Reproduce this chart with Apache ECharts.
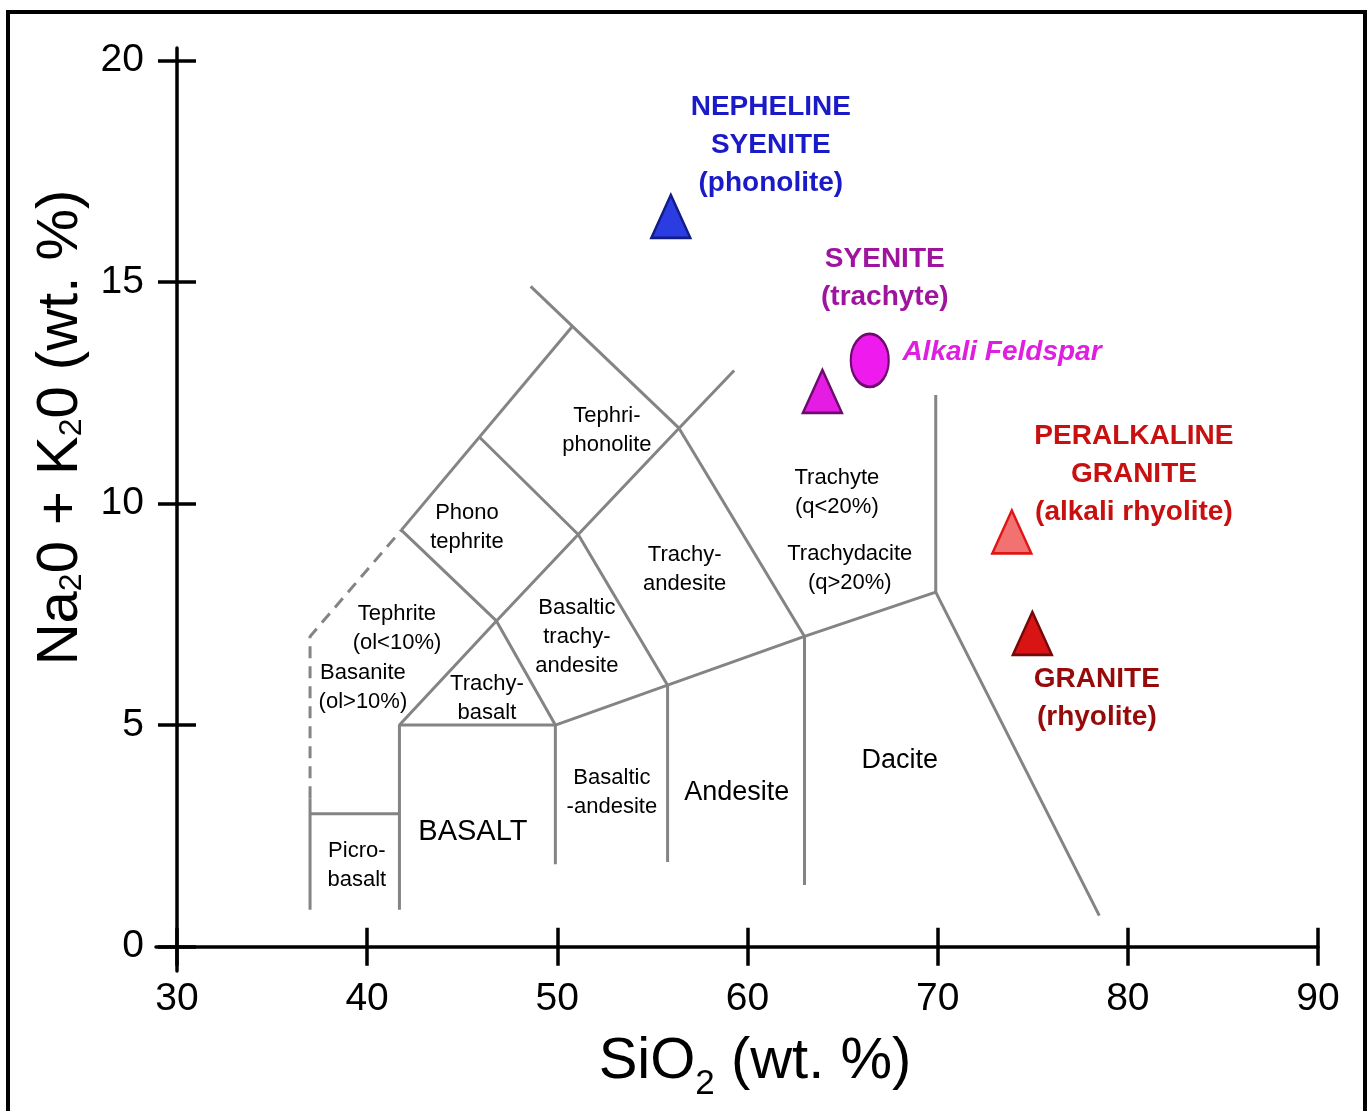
<!DOCTYPE html>
<html>
<head>
<meta charset="utf-8">
<title>TAS diagram</title>
<script src="https://cdn.jsdelivr.net/npm/echarts@6/dist/echarts.min.js"></script>
<style>
html, body { margin: 0; padding: 0; background: #fff; }
#tas { width: 1371px; height: 1111px; }
</style>
</head>
<body>
<div id="tas"></div>
<script>
var FONT = '"Liberation Sans", Arial, Helvetica, sans-serif';

var xTicks = [30, 40, 50, 60, 70, 80, 90];
var yTicks = [0, 5, 10, 15, 20];

// field boundaries, points are [SiO2, Na2O+K2O]
var fieldLines = [
    [[37, 0.83], [37, 3.35]],
    [[37, 3.0], [41.7, 3.0]],
    [[41.7, 0.83], [41.7, 5.0], [49.9, 5.0], [49.9, 1.86]],
    [[49.9, 5.0], [55.8, 5.9], [63.0, 7.0], [69.9, 8.0], [78.5, 0.7]],
    [[55.8, 5.9], [55.8, 1.91]],
    [[63.0, 7.0], [63.0, 1.39]],
    [[69.9, 8.0], [69.9, 12.45]],
    [[41.8, 9.4], [50.8, 14.0]],
    [[48.6, 14.9], [56.4, 11.7]],
    [[41.7, 5.0], [46.8, 7.35], [51.1, 9.3], [56.4, 11.7], [59.3, 13.0]],
    [[41.8, 9.4], [46.8, 7.35], [49.9, 5.0]],
    [[45.9, 11.5], [51.1, 9.3], [55.8, 5.9]],
    [[56.4, 11.7], [63.0, 7.0]]
];
var dashedLine = [[37, 3.35], [37, 7.0], [41.8, 9.4]];

var fieldNames = ['Tephri-\nphonolite', 'Phono\ntephrite', 'Tephrite\n(ol<10%)', 'Basanite\n(ol>10%)',
    'Trachy-\nbasalt', 'Picro-\nbasalt', 'BASALT', 'Basaltic\ntrachy-\nandesite', 'Trachy-\nandesite',
    'Trachyte\n(q<20%)', 'Trachydacite\n(q>20%)', 'Basaltic\n-andesite', 'Andesite', 'Dacite'];
var fieldSiO2 = [52.61, 45.25, 41.57, 39.78, 46.30, 39.46, 45.56, 51.03, 56.70, 64.70, 65.38, 52.87, 59.44, 68.01];
var fieldAlk  = [11.64, 9.45, 7.17, 5.84, 5.59, 1.84, 2.59, 6.99, 8.52, 10.26, 8.54, 3.47, 3.47, 4.19];
var bigFields = ['BASALT', 'Andesite', 'Dacite'];

var rockNames = ['Nepheline syenite', 'Syenite', 'Alkali feldspar', 'Peralkaline granite', 'Granite'];
var rockSiO2 = [55.97, 63.94, 66.43, 73.90, 74.98];
var rockAlk  = [16.48, 12.53, 13.23, 9.36, 7.07];
var rockStyle = [
    { symbol: 'triangle', fill: '#2b3de2', stroke: '#121c86' },
    { symbol: 'triangle', fill: '#e41ce4', stroke: '#6c0c6c' },
    { symbol: 'path://M0,-1A1,1,0,1,1,0,1A1,1,0,1,1,0,-1Z', fill: '#ee1aee', stroke: '#6c0c6c', size: [38, 53] },
    { symbol: 'triangle', fill: '#f27272', stroke: '#e01616' },
    { symbol: 'triangle', fill: '#d81414', stroke: '#760808' }
];

var noteText = ['NEPHELINE\nSYENITE\n(phonolite)', 'SYENITE\n(trachyte)', 'Alkali Feldspar',
    'PERALKALINE\nGRANITE\n(alkali rhyolite)', 'GRANITE\n(rhyolite)'];
var noteSiO2 = [61.23, 67.22, 68.12, 80.32, 78.37];
var noteAlk  = [18.09, 15.09, 13.42, 10.67, 5.61];
var noteColor = ['#1a1ac8', '#9e149e', '#e01ee0', '#c81010', '#960a0a'];

var myChart = echarts.init(document.getElementById('tas'));

var gray = '#848484';
var series = [];
fieldLines.forEach(function (pts) {
    series.push({
        type: 'line', data: pts, symbol: 'none', silent: true,
        lineStyle: { color: gray, width: 3 }
    });
});
series.push({
    type: 'line', data: dashedLine, symbol: 'none', silent: true,
    lineStyle: { color: gray, width: 3, type: [12, 8] }
});
series.push({
    type: 'scatter', silent: true, symbolSize: 1,
    itemStyle: { color: 'transparent', opacity: 1 },
    label: { show: true, position: 'inside', fontFamily: FONT, fontSize: 22, lineHeight: 29, color: '#000' },
    data: fieldNames.map(function (n, i) {
        var big = bigFields.indexOf(n) >= 0;
        return {
            value: [fieldSiO2[i], fieldAlk[i]],
            label: { formatter: n, fontSize: n === 'BASALT' ? 29 : (big ? 27 : 22) }
        };
    })
});
series.push({
    type: 'scatter', silent: true,
    itemStyle: { opacity: 1 },
    data: rockNames.map(function (n, i) {
        var s = rockStyle[i];
        return {
            name: n,
            value: [rockSiO2[i], rockAlk[i]],
            symbol: s.symbol,
            symbolSize: s.size || [39, 43],
            itemStyle: { color: s.fill, borderColor: s.stroke, borderWidth: 2.5, opacity: 1 }
        };
    }),
    z: 5
});
series.push({
    type: 'scatter', silent: true, symbolSize: 1,
    itemStyle: { color: 'transparent', opacity: 1 },
    label: { show: true, position: 'inside', fontFamily: FONT, fontSize: 28, fontWeight: 'bold', lineHeight: 38 },
    data: noteText.map(function (t, i) {
        var lab = { formatter: t, color: noteColor[i] };
        if (t === 'Alkali Feldspar') {
            lab.position = 'right';
            lab.distance = 0;
            lab.fontStyle = 'italic';
        }
        return { value: [noteSiO2[i], noteAlk[i]], label: lab };
    })
});

var axisLineStyle = { color: '#000', width: 3.5 };
var option = {
    backgroundColor: '#fff',
    animation: false,
    textStyle: { fontFamily: FONT },
    grid: { left: 156, right: 53, top: 48, bottom: 140, containLabel: false, outerBoundsMode: 'none' },
    xAxis: [
        {
            type: 'value', min: 28.9, max: 90,
            axisLine: { onZero: true, onZeroAxisIndex: 0, lineStyle: axisLineStyle },
            axisTick: { length: 19, customValues: xTicks, lineStyle: axisLineStyle },
            axisLabel: { customValues: xTicks, fontSize: 39, color: '#000', margin: 9, fontFamily: FONT },
            splitLine: { show: false },
            name: '{m|SiO}{s|2}{m| (wt. %)}',
            nameLocation: 'middle', nameGap: 62,
            nameTextStyle: {
                padding: [0, 0, 0, 36],
                rich: {
                    m: { fontSize: 58, lineHeight: 58, verticalAlign: 'top', color: '#000', fontFamily: FONT },
                    s: { fontSize: 35, verticalAlign: 'top', padding: [34, 0, 0, 0], color: '#000', fontFamily: FONT }
                }
            }
        },
        {
            type: 'value', min: 28.9, max: 90, position: 'bottom',
            axisLine: { show: false, onZero: true, onZeroAxisIndex: 0 },
            axisTick: { inside: true, length: 19, customValues: xTicks, lineStyle: axisLineStyle },
            axisLabel: { show: false },
            splitLine: { show: false }
        }
    ],
    yAxis: [
        {
            type: 'value', min: -0.55, max: 20.28, offset: -21,
            axisLine: { onZero: false, lineStyle: axisLineStyle },
            axisTick: { length: 19, customValues: yTicks, lineStyle: axisLineStyle },
            axisLabel: { customValues: yTicks, fontSize: 39, color: '#000', margin: 33, fontFamily: FONT },
            splitLine: { show: false },
            name: '{m|Na}{s|2}{m|0 + K}{s|2}{m|0 (wt. %)}',
            nameLocation: 'middle', nameRotate: 90, nameGap: 83,
            nameTextStyle: {
                padding: [0, 0, 0, 164],
                rich: {
                    m: { fontSize: 58, lineHeight: 58, verticalAlign: 'top', color: '#000', fontFamily: FONT },
                    s: { fontSize: 32, verticalAlign: 'top', padding: [24, 0, 0, 0], color: '#000', fontFamily: FONT }
                }
            }
        },
        {
            type: 'value', min: -0.55, max: 20.28, offset: -21, position: 'left',
            axisLine: { show: false, onZero: false },
            axisTick: { inside: true, length: 19, customValues: yTicks, lineStyle: axisLineStyle },
            axisLabel: { show: false },
            splitLine: { show: false }
        }
    ],
    graphic: [
        {
            type: 'rect', z: 100, silent: true,
            shape: { x: 8, y: 12, width: 1357, height: 1200 },
            style: { fill: 'none', stroke: '#000', lineWidth: 4 }
        }
    ],
    series: series
};

myChart.setOption(option);
</script>
</body>
</html>
